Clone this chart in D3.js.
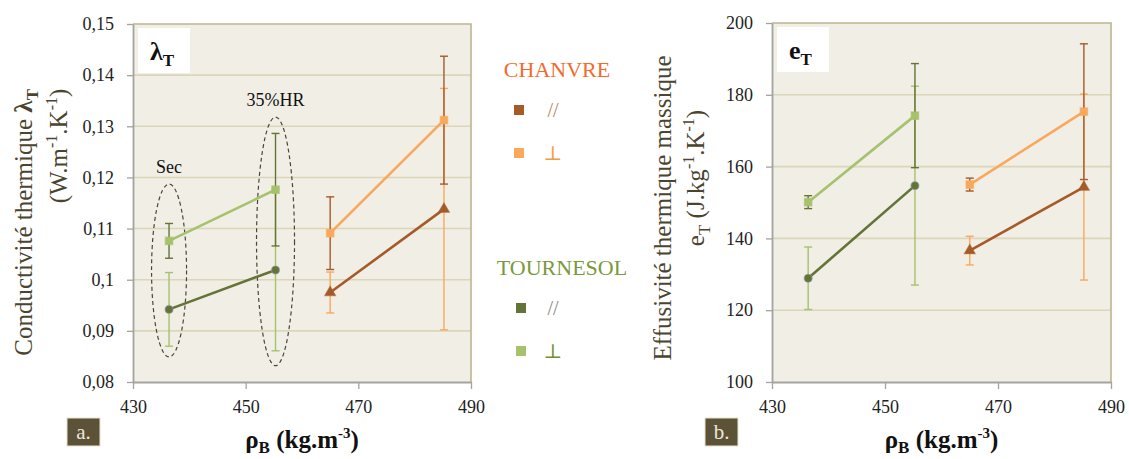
<!DOCTYPE html>
<html>
<head>
<meta charset="utf-8">
<script src="https://cdn.jsdelivr.net/npm/d3@7"></script>
<style>
  body { margin: 0; background: #fff; }
  svg text { font-family: "Liberation Serif", "DejaVu Serif", "Noto Serif", "Times New Roman", Times, serif; }
</style>
</head>
<body>
<script>
// ---- data ----
var densityTournesol = [436.4, 455.3]
var densityChanvre = [465.0, 485.2]

// conductivity lambda_T (W.m-1.K-1)
var lambdaTournesolPara = [0.0942, 0.1019]
var lambdaTournesolParaErr = [0.0072, 0.0158]
var lambdaTournesolPerp = [0.1076, 0.1176]
var lambdaTournesolPerpErr = [0.0034, 0.0110]
var lambdaChanvrePara = [0.0975, 0.1138]
var lambdaChanvreParaErr = [0.0040, 0.0236]
var lambdaChanvrePerp = [0.1091, 0.1312]
var lambdaChanvrePerpErr = [0.0071, 0.0125]

// effusivity e_T (J.kg-1.K-1)
var effTournesolPara = [128.9, 154.7]
var effTournesolParaErr = [8.7, 27.7]
var effTournesolPerp = [150.1, 174.2]
var effTournesolPerpErr = [1.8, 14.5]
var effChanvrePara = [136.6, 154.3]
var effChanvreParaErr = [4.0, 25.9]
var effChanvrePerp = [155.0, 175.3]
var effChanvrePerpErr = [1.8, 18.9]

var xTicks = [430, 450, 470, 490]
var lambdaTicks = [0.08, 0.09, 0.10, 0.11, 0.12, 0.13, 0.14, 0.15]
var effTicks = [100, 120, 140, 160, 180, 200]

// dashed ellipses: x, top value, bottom value + label
var groupLabels = ["Sec", "35%HR"]
var groupX = [436.4, 455.3]
var groupTop = [0.1187, 0.1318]
var groupBottom = [0.0849, 0.0832]

// colours
var cDarkGreen = "#637436", cLightGreen = "#a5c26c"
var cBrown = "#a65a27", cOrange = "#f9a85c"

width = 1129
height = 459

svg = d3.select("body").append("svg")
    .attr("width", width)
    .attr("height", height)

function toPoints(xs, ys, errs) {
  return xs.map(function(x, i) { return {x: x, y: ys[i], e: errs[i]}; })
}

// rotated label whose glyph box is centred on (cx, cy)
function rotatedLabel(g, cx, cy, build) {
  var t = g.append("text")
      .attr("font-size", 25).attr("fill", "#4b4530")
  build(t)
  var b = t.node().getBBox()
  // in rotated frame: local x runs upward, local y runs right
  var lx = -(b.x + b.width / 2), ly = -(b.y + b.height / 2)
  t.attr("transform", "translate(" + cx + "," + cy + ") rotate(-90) translate(" + lx + "," + ly + ")")
}

function drawPanel(p) {
  var x = d3.scaleLinear().domain([430, 490]).range([p.left, p.right])
  var y = d3.scaleLinear().domain(p.yDomain).range([p.bottom, p.top])
  var g = svg.append("g")

  // plot background
  g.append("rect")
      .attr("x", p.left).attr("y", p.top)
      .attr("width", p.right - p.left).attr("height", p.bottom - p.top)
      .attr("fill", "#f1eee6")

  // gridlines
  g.selectAll("line.grid")
    .data(p.yTicks.slice(1, -1))
    .enter().append("line")
      .attr("class", "grid")
      .attr("x1", p.left).attr("x2", p.right)
      .attr("y1", function(d) { return y(d); })
      .attr("y2", function(d) { return y(d); })
      .attr("stroke", "#dcd6b8")
      .attr("stroke-width", 1.6)

  // top and right border
  g.append("path")
      .attr("d", "M" + p.left + "," + p.top + "H" + p.right + "V" + p.bottom)
      .attr("fill", "none")
      .attr("stroke", "#bdb58e")
      .attr("stroke-width", 1.6)

  // axes
  var ya = g.append("g")
      .attr("transform", "translate(" + p.left + ",0)")
      .call(d3.axisLeft(y).tickValues(p.yTicks).tickSize(6).tickSizeOuter(0).tickPadding(13)
        .tickFormat(p.yFormat))
  var xa = g.append("g")
      .attr("transform", "translate(0," + p.bottom + ")")
      .call(d3.axisBottom(x).tickValues(xTicks).tickSize(7).tickSizeOuter(0).tickPadding(11)
        .tickFormat(d3.format("d")))
  ;[ya, xa].forEach(function(a) {
    a.attr("font-family", null).attr("font-size", 18)
    a.select(".domain").attr("stroke", "#a3a3a0").attr("stroke-width", 1.8)
    a.selectAll(".tick line").attr("stroke", "#a3a3a0").attr("stroke-width", 1.3)
    a.selectAll(".tick text").attr("fill", "#222")
  })

  // title box inside the plot
  g.append("rect")
      .attr("x", p.left + 5).attr("y", p.top + 4)
      .attr("width", 52).attr("height", 45)
      .attr("fill", "#fff")
  var t = g.append("text")
      .attr("x", p.left + 17).attr("y", p.top + 36)
      .attr("font-size", 26).attr("font-weight", "bold").attr("fill", "#111")
  t.append("tspan").text(p.symbol)
  t.append("tspan").attr("font-size", 17).attr("dy", 6).text("T")

  // annotations (left panel only)
  if (p.annotate) {
    groupX.forEach(function(gx, i) {
      var cy = (y(groupTop[i]) + y(groupBottom[i])) / 2
      g.append("ellipse")
          .attr("cx", x(gx)).attr("cy", cy)
          .attr("rx", i == 0 ? 17.5 : 19)
          .attr("ry", (y(groupBottom[i]) - y(groupTop[i])) / 2)
          .attr("fill", "none")
          .attr("stroke", "#4a4636")
          .attr("stroke-width", 1.2)
          .attr("stroke-dasharray", "4,3")
      g.append("text")
          .attr("x", x(gx))
          .attr("y", y(groupTop[i]) - 11)
          .attr("text-anchor", "middle")
          .attr("font-size", 18).attr("fill", "#111")
          .text(groupLabels[i])
    })
  }

  // series lines
  p.series.forEach(function(s) {
    var pts = toPoints(s.xs, s.ys, s.errs)
    g.append("path")
        .datum(pts)
        .attr("d", d3.line().x(function(d) { return x(d.x); }).y(function(d) { return y(d.y); }))
        .attr("fill", "none")
        .attr("stroke", s.color)
        .attr("stroke-width", 2.6)
  })
  // error bars
  p.series.forEach(function(s) {
    var pts = toPoints(s.xs, s.ys, s.errs)
    var eb = g.append("g").attr("stroke", s.errColor).attr("stroke-width", 1.4)
    pts.forEach(function(d) {
      var cx = x(d.x), y1 = y(d.y + d.e), y2 = y(d.y - d.e)
      eb.append("line").attr("x1", cx).attr("x2", cx).attr("y1", y1).attr("y2", y2)
      eb.append("line").attr("x1", cx - 4).attr("x2", cx + 4).attr("y1", y1).attr("y2", y1)
      eb.append("line").attr("x1", cx - 4).attr("x2", cx + 4).attr("y1", y2).attr("y2", y2)
    })
  })
  // markers
  p.series.forEach(function(s) {
    var pts = toPoints(s.xs, s.ys, s.errs)
    var sym = s.shape == "circle" ? d3.symbolCircle : s.shape == "triangle" ? d3.symbolTriangle : d3.symbolSquare
    g.selectAll(null)
      .data(pts)
      .enter().append("path")
        .attr("d", d3.symbol().type(sym).size(s.shape == "square" ? 56 : 50))
        .attr("transform", function(d) { return "translate(" + x(d.x) + "," + y(d.y) + ")"; })
        .attr("fill", s.color)
        .attr("stroke", s.shape == "circle" ? "#8aa0a8" : s.color)
        .attr("stroke-opacity", 0.6)
        .attr("stroke-width", 1.2)
  })

  // y axis title (two rotated lines)
  rotatedLabel(g, p.title1X, p.title1Y, p.title1)
  rotatedLabel(g, p.title2X, p.title2Y, p.title2)

  // x axis title
  var xt = g.append("text")
      .attr("x", (p.left + p.right) / 2).attr("y", 448)
      .attr("text-anchor", "middle")
      .attr("font-size", 25).attr("font-weight", "bold").attr("fill", "#111")
  xt.append("tspan").text("ρ")
  xt.append("tspan").attr("font-size", 17).attr("dy", 5).text("B")
  xt.append("tspan").attr("dy", -5).text(" (kg.m")
  xt.append("tspan").attr("font-size", 15).attr("dy", -10).text("-3")
  xt.append("tspan").attr("dy", 10).text(")")

  // panel letter
  g.append("rect")
      .attr("x", p.letterX).attr("y", 418)
      .attr("width", 33).attr("height", 28)
      .attr("fill", "#5c5237")
      .attr("stroke", "#e8e2cc").attr("stroke-width", 1)
  g.append("text")
      .attr("x", p.letterX + 16.5).attr("y", 439)
      .attr("text-anchor", "middle")
      .attr("font-size", 21).attr("fill", "#ece8da")
      .text(p.letter)
}

drawPanel({
  left: 133, right: 471, top: 24, bottom: 382,
  yDomain: [0.08, 0.15], yTicks: lambdaTicks,
  yFormat: function(d) { return String(+d.toFixed(2)).replace(".", ","); },
  symbol: "λ", annotate: true, letter: "a.", letterX: 67,
  title1X: 26, title1Y: 222, title2X: 58, title2Y: 146,
  title1: function(t) {
    t.append("tspan").text("Conductivité thermique ")
    t.append("tspan").attr("font-weight", "bold").text("λ")
    t.append("tspan").attr("font-size", 17).attr("font-weight", "bold").attr("dy", 6).text("T")
  },
  title2: function(t) {
    t.append("tspan").text("(W.m")
    t.append("tspan").attr("font-size", 16).attr("dy", -10).text("-1")
    t.append("tspan").attr("dy", 10).text(".K")
    t.append("tspan").attr("font-size", 16).attr("dy", -10).text("-1")
    t.append("tspan").attr("dy", 10).text(")")
  },
  series: [
    {xs: densityTournesol, ys: lambdaTournesolPara, errs: lambdaTournesolParaErr, color: cDarkGreen, errColor: cLightGreen, shape: "circle"},
    {xs: densityTournesol, ys: lambdaTournesolPerp, errs: lambdaTournesolPerpErr, color: cLightGreen, errColor: cDarkGreen, shape: "square"},
    {xs: densityChanvre, ys: lambdaChanvrePara, errs: lambdaChanvreParaErr, color: cBrown, errColor: cOrange, shape: "triangle"},
    {xs: densityChanvre, ys: lambdaChanvrePerp, errs: lambdaChanvrePerpErr, color: cOrange, errColor: cBrown, shape: "square"}
  ]
})

drawPanel({
  left: 772, right: 1111, top: 23, bottom: 382,
  yDomain: [100, 200], yTicks: effTicks,
  yFormat: d3.format("d"),
  symbol: "e", annotate: false, letter: "b.", letterX: 705,
  title1X: 662, title1Y: 208, title2X: 697, title2Y: 178,
  title1: function(t) { t.text("Effusivité thermique massique") },
  title2: function(t) {
    t.append("tspan").text("e")
    t.append("tspan").attr("font-size", 17).attr("dy", 6).text("T")
    t.append("tspan").attr("dy", -6).text(" (J.kg")
    t.append("tspan").attr("font-size", 16).attr("dy", -10).text("-1")
    t.append("tspan").attr("dy", 10).text(".K")
    t.append("tspan").attr("font-size", 16).attr("dy", -10).text("-1")
    t.append("tspan").attr("dy", 10).text(")")
  },
  series: [
    {xs: densityTournesol, ys: effTournesolPara, errs: effTournesolParaErr, color: cDarkGreen, errColor: cLightGreen, shape: "circle"},
    {xs: densityTournesol, ys: effTournesolPerp, errs: effTournesolPerpErr, color: cLightGreen, errColor: cDarkGreen, shape: "square"},
    {xs: densityChanvre, ys: effChanvrePara, errs: effChanvreParaErr, color: cBrown, errColor: cOrange, shape: "triangle"},
    {xs: densityChanvre, ys: effChanvrePerp, errs: effChanvrePerpErr, color: cOrange, errColor: cBrown, shape: "square"}
  ]
})

// ---- legend ----
var legendGroups = ["CHANVRE", "TOURNESOL"]
var legendItems = ["//", "⊥"]
var legendTitleColor = ["#f26b2c", "#7a993c"]
var legendMarkColor = [[cBrown, cOrange], [cDarkGreen, cLightGreen]]
var legendTextColor = [["#c27e58", "#f59a3c"], ["#8a8a80", "#6f8f34"]]
var legendTop = [77, 275]

var legend = svg.append("g")
legendGroups.forEach(function(name, gi) {
  legend.append("text")
      .attr("x", gi == 0 ? 557 : 562).attr("y", legendTop[gi])
      .attr("text-anchor", "middle")
      .attr("font-size", 22).attr("fill", legendTitleColor[gi])
      .text(name)
  legendItems.forEach(function(item, ii) {
    var cy = legendTop[gi] + 33 + ii * 43
    legend.append("rect")
        .attr("x", 514 + gi * 2).attr("y", cy - 5)
        .attr("width", 10).attr("height", 10)
        .attr("fill", legendMarkColor[gi][ii])
    legend.append("text")
        .attr("x", 553).attr("y", cy + 7)
        .attr("text-anchor", "middle")
        .attr("font-size", 20).attr("fill", legendTextColor[gi][ii])
        .text(item)
  })
})
</script>
</body>
</html>
